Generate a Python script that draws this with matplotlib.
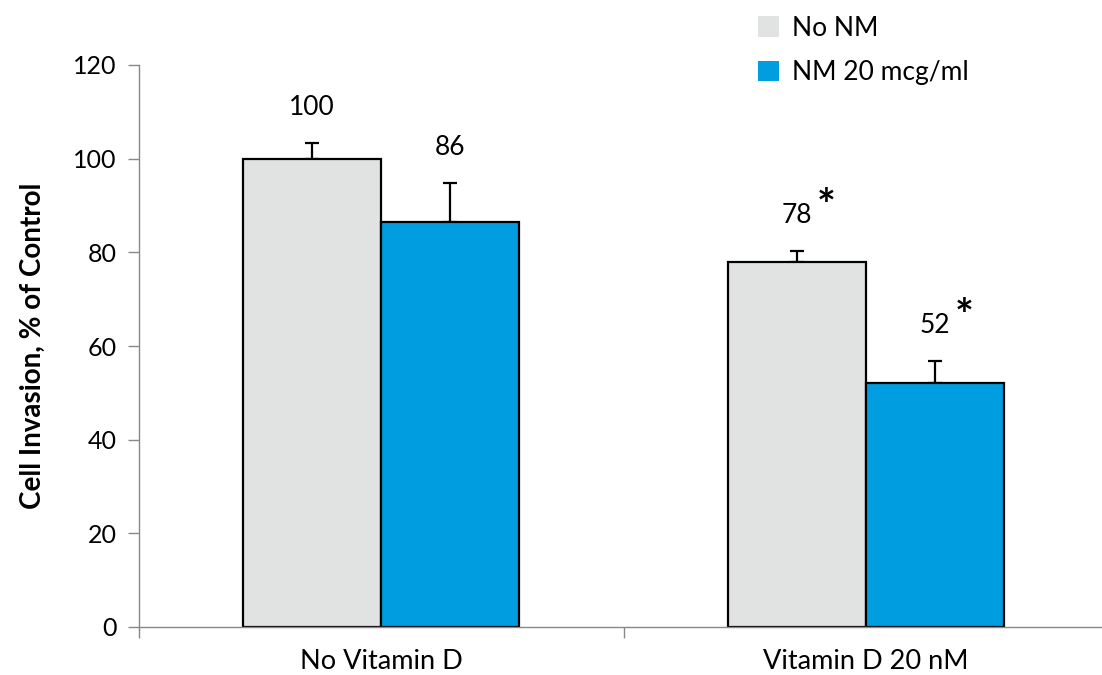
import numpy as np
from matplotlib import pyplot as plt
from matplotlib.patches import Patch

categories = ["No Vitamin D", "Vitamin D 20 nM"]
series_names = ["No NM", "NM 20 mcg/ml"]
no_nm = [100, 78]
nm_20 = [86.5, 52]
no_nm_err = [3.3, 2.2]
nm_20_err = [8.2, 4.7]
no_nm_labels = ["100", "78"]
nm_20_labels = ["86", "52"]
no_nm_star = [False, True]
nm_20_star = [False, True]

colors = ["#E1E2E2", "#009EE0"]

plt.rcParams['font.family'] = ['Lato', 'DejaVu Sans']

fig = plt.figure(figsize=(11.02, 6.75), dpi=100)
ax = fig.add_axes([139 / 1102, 48 / 675, 969 / 1102, 562 / 675])

x = np.arange(len(categories))
width = 0.285


def draw_series(pos, values, errs, labels, stars, color):
    ''' Draw one series of bars with upper error bars and value labels '''
    ax.bar(pos, values, width, color=color, edgecolor="black", linewidth=1.6, zorder=2)
    ax.errorbar(pos, values, yerr=[np.zeros(len(errs)), errs], fmt="none",
                ecolor="black", elinewidth=1.6, capsize=5, capthick=1.6, zorder=1)
    for p, v, e, lab, s in zip(pos, values, errs, labels, stars):
        ax.text(p, v + e + 5, lab, ha="center", va="bottom", fontsize=19)
        if s:
            ax.annotate("*", xy=(p, v + e + 5), xytext=(21, 15), textcoords="offset points",
                        ha="center", va="center", fontsize=32, fontweight="bold")


draw_series(x - width / 2, no_nm, no_nm_err, no_nm_labels, no_nm_star, colors[0])
draw_series(x + width / 2, nm_20, nm_20_err, nm_20_labels, nm_20_star, colors[1])

ax.set_xlim(-0.5, 1.5)
ax.set_ylim(0, 120)
ax.set_yticks(range(0, 121, 20))
ax.set_xticks(x)
ax.set_xticklabels(categories, fontsize=19.5)
ax.set_xticks([-0.5, 0.5, 1.5], minor=True)
ax.tick_params(axis="x", which="major", length=0, pad=16)
ax.tick_params(axis="x", which="minor", length=8, color="#888888", width=1)
ax.tick_params(axis="y", length=8, color="#888888", width=1, labelsize=18, pad=8)

for side in ["top", "right"]:
    ax.spines[side].set_visible(False)
for side in ["left", "bottom"]:
    ax.spines[side].set_color("#888888")
    ax.spines[side].set_linewidth(1)

ax.set_ylabel("Cell Invasion, % of Control", fontsize=20, fontweight="bold", labelpad=20)

handles = [Patch(facecolor=c, edgecolor="none") for c in colors]
fig.legend(handles, series_names, loc="upper left", bbox_to_anchor=(734 / 1102, 1.012),
           frameon=False, fontsize=19, handlelength=0.8, handleheight=0.8,
           handletextpad=0.5, labelspacing=0.75)

fig.savefig("out.png", dpi=100)
